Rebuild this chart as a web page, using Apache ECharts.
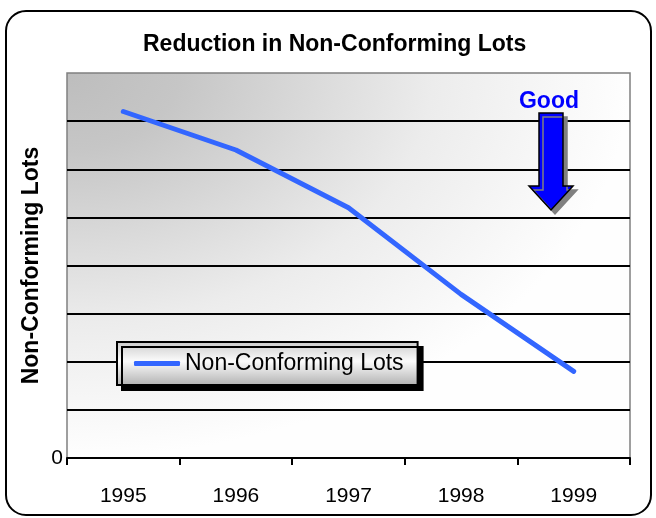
<!DOCTYPE html>
<html>
<head>
<meta charset="utf-8">
<script src="https://cdn.jsdelivr.net/npm/echarts@6/dist/echarts.min.js"></script>
<style>
  html, body { margin: 0; padding: 0; background: #fff; }
  #main { width: 656px; height: 518px; }
</style>
</head>
<body>
<div id="main"></div>
<script>
  // data
  var years = ['1995', '1996', '1997', '1998', '1999'];
  var lots = [72, 64, 52, 34, 18];
  var yMin = 0, yMax = 80, yStep = 10;

  var chart = echarts.init(document.getElementById('main'));

  // plot box (grid) in px
  var gx = 67, gy = 73, gw = 563, gh = 385;

  var option = {
    backgroundColor: '#fff',
    animation: false,
    title: {
      text: 'Reduction in Non-Conforming Lots',
      left: 143,
      top: 33,
      padding: 0,
      textStyle: { fontFamily: 'Arial', fontSize: 23, fontWeight: 'bold', color: '#000' }
    },
    grid: {
      left: gx, top: gy, width: gw, height: gh,
      show: true,
      backgroundColor: 'transparent',
      borderColor: '#808080',
      borderWidth: 1.5
    },
    legend: {
      data: [{ name: 'Non-Conforming Lots', icon: 'roundRect' }],
      left: 117,
      top: 342,
      padding: [10, 14, 10, 17],
      itemWidth: 46,
      itemHeight: 5,
      backgroundColor: new echarts.graphic.LinearGradient(0, 0, 0, 1, [
        { offset: 0, color: '#cacaca' },
        { offset: 0.45, color: '#fbfbfb' },
        { offset: 1, color: '#b0b0b0' }
      ]),
      borderColor: '#000',
      borderWidth: 2,
      borderRadius: 0,
      shadowColor: '#000',
      shadowBlur: 0,
      shadowOffsetX: 5,
      shadowOffsetY: 5,
      textStyle: { fontFamily: 'Arial', fontSize: 23, color: '#000' }
    },
    xAxis: {
      type: 'category',
      data: years,
      boundaryGap: true,
      axisLine: { show: true, lineStyle: { color: '#000', width: 2 } },
      axisTick: { show: true, inside: false, length: 7, lineStyle: { color: '#000', width: 2 } },
      axisLabel: { margin: 28, fontFamily: 'Arial', fontSize: 21, color: '#000' },
      splitLine: { show: false }
    },
    yAxis: {
      type: 'value',
      min: yMin,
      max: yMax,
      interval: yStep,
      name: 'Non-Conforming Lots',
      nameLocation: 'middle',
      nameGap: 24,
      nameRotate: 90,
      nameMoveOverlap: false,
      nameTextStyle: { fontFamily: 'Arial', fontSize: 23, fontWeight: 'bold', color: '#000' },
      axisLine: { show: false },
      axisTick: { show: false },
      axisLabel: {
        margin: 4,
        fontFamily: 'Arial', fontSize: 21, color: '#000',
        formatter: function (v) { return v === 0 ? '0' : ''; }
      },
      splitLine: {
        show: true,
        lineStyle: {
          width: 2,
          color: ['transparent', '#000', '#000', '#000', '#000', '#000', '#000', '#000', 'transparent']
        }
      }
    },
    series: [{
      name: 'Non-Conforming Lots',
      type: 'line',
      data: lots,
      symbol: 'none',
      showSymbol: false,
      color: '#3366ff',
      lineStyle: { color: '#3366ff', width: 5, cap: 'round', join: 'round' },
      z: 5
    }],
    graphic: [
      // plot background, grey in the top left corner fading out
      {
        type: 'rect',
        x: gx, y: gy,
        scaleX: gw / gh, scaleY: 1,
        shape: { x: 0, y: 0, width: gh, height: gh },
        style: {
          fill: new echarts.graphic.RadialGradient(0, 0, 1, [
            { offset: 0, color: '#bdbdbd' },
            { offset: 0.2, color: '#c6c6c6' },
            { offset: 0.65, color: '#ececec' },
            { offset: 1, color: '#fefefe' }
          ])
        },
        silent: true,
        z: -10
      },
      // rounded frame
      {
        type: 'rect',
        shape: { x: 6, y: 11, width: 645, height: 504, r: 20 },
        style: { fill: 'none', stroke: '#000', lineWidth: 2 },
        silent: true,
        z: 10
      },
      // "Good" arrow
      {
        type: 'polygon',
        shape: {
          points: [[539, 113], [563, 113], [563, 186], [573, 186], [551, 210], [529, 186], [539, 186]]
        },
        style: {
          fill: '#0000ff', stroke: '#000', lineWidth: 1.5,
          shadowColor: '#808080', shadowBlur: 0, shadowOffsetX: 4, shadowOffsetY: 4
        },
        silent: true,
        z: 10
      },
      {
        type: 'text',
        x: 549, y: 90,
        style: {
          text: 'Good', fill: '#0000ff',
          font: 'bold 23px Arial',
          textAlign: 'center'
        },
        silent: true,
        z: 10
      }
    ]
  };

  chart.setOption(option);
</script>
</body>
</html>
